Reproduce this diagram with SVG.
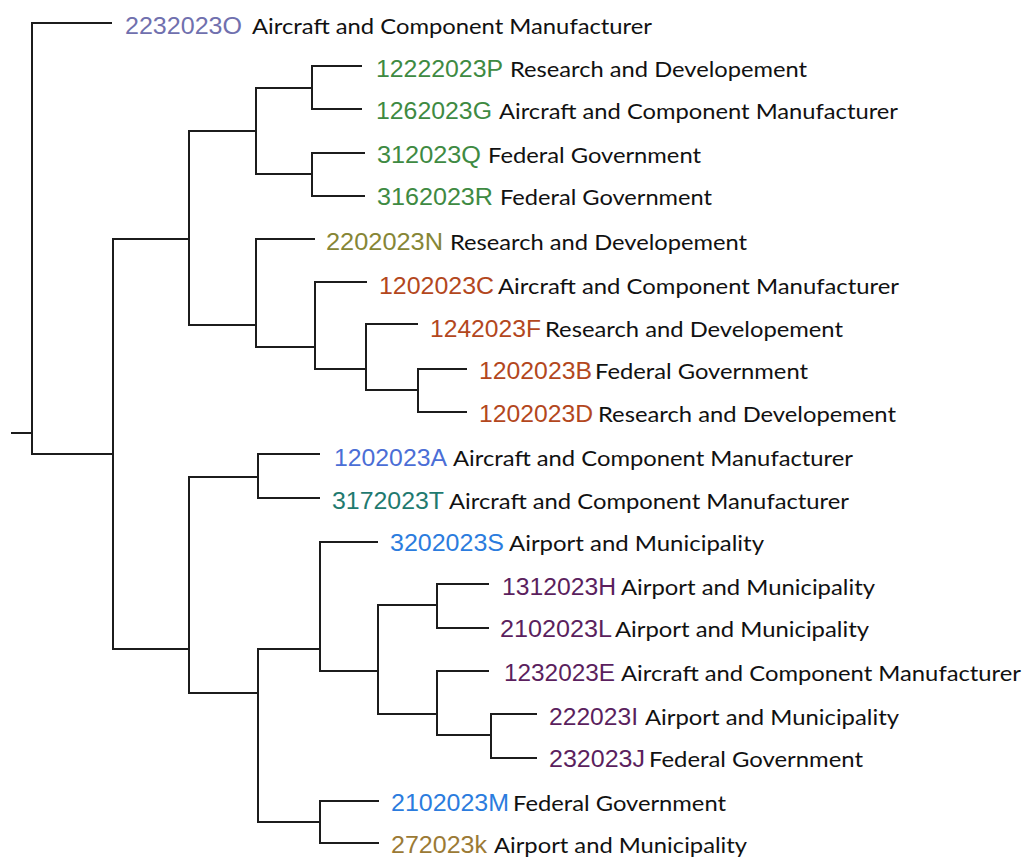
<svg xmlns="http://www.w3.org/2000/svg" width="1024" height="858" viewBox="0 0 1024 858">
  <style>
    .br { fill: none; stroke: #1c1c1c; stroke-width: 2; stroke-linejoin: miter; }
    .id { font-family: "Liberation Sans", Arial, sans-serif; font-size: 23.5px; }
    .ds { font-family: Lato, "Open Sans", sans-serif; font-size: 21.5px; fill: #111; }
    .c-o { fill: #7070ae; }
    .c-g { fill: #3e8a42; }
    .c-n { fill: #868636; }
    .c-r { fill: #b3471d; }
    .c-a { fill: #4b6ed6; }
    .c-t { fill: #1f7a6f; }
    .c-b { fill: #2b7cde; }
    .c-p { fill: #5b1f5e; }
    .c-k { fill: #9b7a35; }
  </style>
  <rect width="1024" height="858" fill="#ffffff"/>

  <!-- dendrogram branches -->
  <g id="connectors">
    <path class="br" d="M11,433 H32"/>
    <path class="br" d="M112,23 H32 V454 H113"/>
    <path class="br" d="M189,239 H113 V649 H189"/>
    <path class="br" d="M256,131 H189 V325 H256"/>
    <path class="br" d="M312,88 H256 V174 H312"/>
    <path class="br" d="M362,66 H312 V109 H362"/>
    <path class="br" d="M365,153 H312 V196 H365"/>
    <path class="br" d="M315,239 H256 V347 H315"/>
    <path class="br" d="M367,282 H315 V369 H366"/>
    <path class="br" d="M418,324 H366 V390 H418"/>
    <path class="br" d="M467,369 H418 V412 H467"/>
    <path class="br" d="M258,477 H189 V693 H258"/>
    <path class="br" d="M320,454 H258 V498 H320"/>
    <path class="br" d="M320,649 H258 V822 H320"/>
    <path class="br" d="M378,542 H320 V671 H378"/>
    <path class="br" d="M437,605 H378 V714 H437"/>
    <path class="br" d="M489,584 H437 V628 H489"/>
    <path class="br" d="M489,671 H437 V735 H491"/>
    <path class="br" d="M537,714 H491 V758 H537"/>
    <path class="br" d="M379,801 H320 V843 H379"/>
  </g>

  <!-- leaf labels -->
  <g id="leaf-2232023O">
    <text class="id c-o" x="125" y="34" textLength="117" lengthAdjust="spacingAndGlyphs">2232023O</text>
    <text class="ds" x="252" y="34" textLength="400" lengthAdjust="spacingAndGlyphs">Aircraft and Component Manufacturer</text>
  </g>
  <g id="leaf-12222023P">
    <text class="id c-g" x="376" y="76.5" textLength="127" lengthAdjust="spacingAndGlyphs">12222023P</text>
    <text class="ds" x="510" y="76.5" textLength="297" lengthAdjust="spacingAndGlyphs">Research and Developement</text>
  </g>
  <g id="leaf-1262023G">
    <text class="id c-g" x="376" y="118.5" textLength="116" lengthAdjust="spacingAndGlyphs">1262023G</text>
    <text class="ds" x="499" y="118.5" textLength="399" lengthAdjust="spacingAndGlyphs">Aircraft and Component Manufacturer</text>
  </g>
  <g id="leaf-312023Q">
    <text class="id c-g" x="377" y="162.5" textLength="104" lengthAdjust="spacingAndGlyphs">312023Q</text>
    <text class="ds" x="488" y="162.5" textLength="213" lengthAdjust="spacingAndGlyphs">Federal Government</text>
  </g>
  <g id="leaf-3162023R">
    <text class="id c-g" x="377" y="204.5" textLength="116" lengthAdjust="spacingAndGlyphs">3162023R</text>
    <text class="ds" x="500" y="204.5" textLength="212" lengthAdjust="spacingAndGlyphs">Federal Government</text>
  </g>
  <g id="leaf-2202023N">
    <text class="id c-n" x="326" y="250" textLength="117" lengthAdjust="spacingAndGlyphs">2202023N</text>
    <text class="ds" x="450" y="250" textLength="297" lengthAdjust="spacingAndGlyphs">Research and Developement</text>
  </g>
  <g id="leaf-1202023C">
    <text class="id c-r" x="379" y="294" textLength="115" lengthAdjust="spacingAndGlyphs">1202023C</text>
    <text class="ds" x="498" y="294" textLength="401" lengthAdjust="spacingAndGlyphs">Aircraft and Component Manufacturer</text>
  </g>
  <g id="leaf-1242023F">
    <text class="id c-r" x="430" y="336.5" textLength="111" lengthAdjust="spacingAndGlyphs">1242023F</text>
    <text class="ds" x="545" y="336.5" textLength="298" lengthAdjust="spacingAndGlyphs">Research and Developement</text>
  </g>
  <g id="leaf-1202023B">
    <text class="id c-r" x="479" y="379" textLength="113" lengthAdjust="spacingAndGlyphs">1202023B</text>
    <text class="ds" x="595" y="379" textLength="213" lengthAdjust="spacingAndGlyphs">Federal Government</text>
  </g>
  <g id="leaf-1202023D">
    <text class="id c-r" x="479" y="421.5" textLength="114" lengthAdjust="spacingAndGlyphs">1202023D</text>
    <text class="ds" x="598" y="421.5" textLength="298" lengthAdjust="spacingAndGlyphs">Research and Developement</text>
  </g>
  <g id="leaf-1202023A">
    <text class="id c-a" x="334" y="466" textLength="113" lengthAdjust="spacingAndGlyphs">1202023A</text>
    <text class="ds" x="453" y="466" textLength="400" lengthAdjust="spacingAndGlyphs">Aircraft and Component Manufacturer</text>
  </g>
  <g id="leaf-3172023T">
    <text class="id c-t" x="332" y="508.5" textLength="112" lengthAdjust="spacingAndGlyphs">3172023T</text>
    <text class="ds" x="449" y="508.5" textLength="400" lengthAdjust="spacingAndGlyphs">Aircraft and Component Manufacturer</text>
  </g>
  <g id="leaf-3202023S">
    <text class="id c-b" x="390" y="551" textLength="114" lengthAdjust="spacingAndGlyphs">3202023S</text>
    <text class="ds" x="509" y="551" textLength="255" lengthAdjust="spacingAndGlyphs">Airport and Municipality</text>
  </g>
  <g id="leaf-1312023H">
    <text class="id c-p" x="502" y="595" textLength="114" lengthAdjust="spacingAndGlyphs">1312023H</text>
    <text class="ds" x="621" y="595" textLength="254" lengthAdjust="spacingAndGlyphs">Airport and Municipality</text>
  </g>
  <g id="leaf-2102023L">
    <text class="id c-p" x="500" y="637" textLength="112" lengthAdjust="spacingAndGlyphs">2102023L</text>
    <text class="ds" x="615" y="637" textLength="254" lengthAdjust="spacingAndGlyphs">Airport and Municipality</text>
  </g>
  <g id="leaf-1232023E">
    <text class="id c-p" x="504" y="681" textLength="111" lengthAdjust="spacingAndGlyphs">1232023E</text>
    <text class="ds" x="621" y="681" textLength="400" lengthAdjust="spacingAndGlyphs">Aircraft and Component Manufacturer</text>
  </g>
  <g id="leaf-222023I">
    <text class="id c-p" x="549" y="725" textLength="89" lengthAdjust="spacingAndGlyphs">222023I</text>
    <text class="ds" x="645" y="725" textLength="254" lengthAdjust="spacingAndGlyphs">Airport and Municipality</text>
  </g>
  <g id="leaf-232023J">
    <text class="id c-p" x="549" y="767" textLength="96" lengthAdjust="spacingAndGlyphs">232023J</text>
    <text class="ds" x="649" y="767" textLength="214" lengthAdjust="spacingAndGlyphs">Federal Government</text>
  </g>
  <g id="leaf-2102023M">
    <text class="id c-b" x="391" y="811" textLength="118" lengthAdjust="spacingAndGlyphs">2102023M</text>
    <text class="ds" x="513" y="811" textLength="213" lengthAdjust="spacingAndGlyphs">Federal Government</text>
  </g>
  <g id="leaf-272023k">
    <text class="id c-k" x="391" y="853" textLength="96" lengthAdjust="spacingAndGlyphs">272023k</text>
    <text class="ds" x="494" y="853" textLength="253" lengthAdjust="spacingAndGlyphs">Airport and Municipality</text>
  </g>
</svg>
